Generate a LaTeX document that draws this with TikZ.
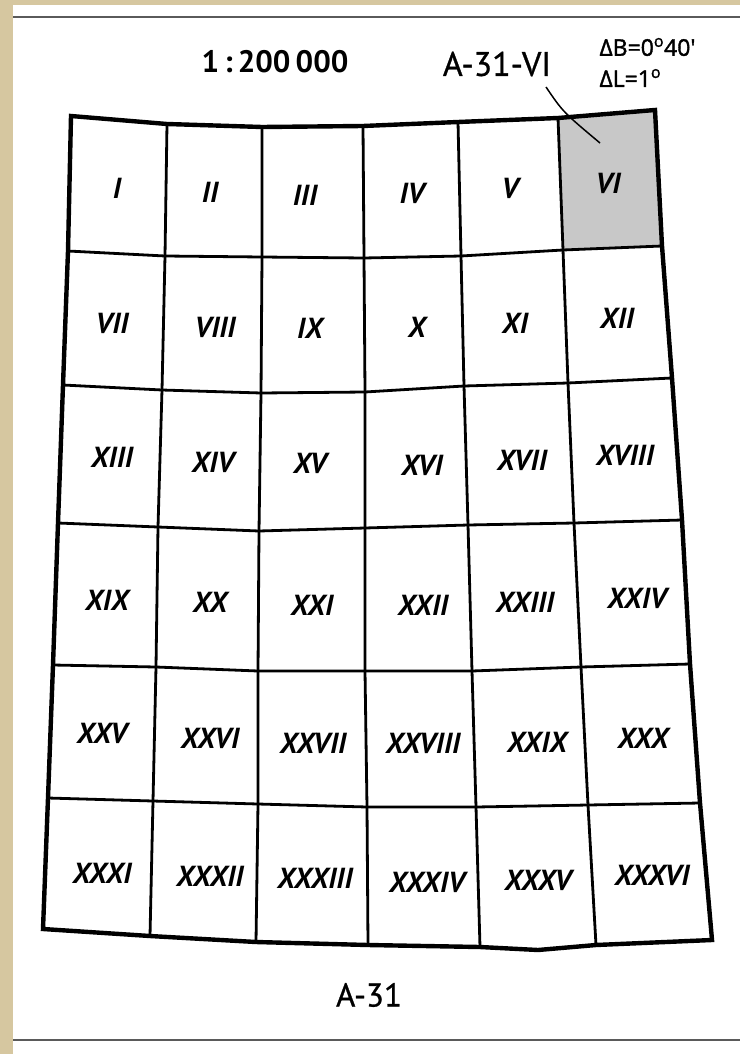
\documentclass[tikz,border=0pt]{standalone}
\usepackage{fontspec}
\setmainfont{PT Sans}
\newfontfamily\semib[FakeBold=0.8]{PT Sans}
\newfontfamily\grk[FakeBold=1.6]{Open Sans}
\definecolor{beige}{RGB}{214,199,160}
\definecolor{cellgray}{RGB}{200,200,200}
\definecolor{rulegray}{RGB}{90,90,90}
\begin{document}
\begin{tikzpicture}[x=1pt,y=-1pt,
  gridline/.style={line width=2.8pt,line join=round},
  outerline/.style={line width=4.4pt,line join=miter},
  cellnum/.style={font=\fontsize{29}{29}\selectfont\bfseries\itshape},
  rulebar/.style={line width=2.6pt,draw=rulegray}]
\useasboundingbox (0,0) rectangle (740,1054);
\fill[white] (0,0) rectangle (740,1054);
\fill[beige] (0,0) rectangle (12.5,1054);
\fill[beige] (0,0) rectangle (740,5.5);
\coordinate (rl0) at (13,17);
\coordinate (rr0) at (740,17);
\coordinate (rl1) at (13,1040);
\coordinate (rr1) at (740,1040);
\draw[rulebar] (rl0) -- (rr0);
\draw[rulebar] (rl1) -- (rr1);
% grid vertices
\foreach \r/\c/\x/\y in {
 0/0/71/116, 0/1/167/124, 0/2/262/127, 0/3/363/126, 0/4/458/122, 0/5/558/118, 0/6/655/110,
 1/0/68/251, 1/1/165/256, 1/2/262/257, 1/3/364/258, 1/4/461/256, 1/5/563/250, 1/6/662/246,
 2/0/63/385, 2/1/162/390, 2/2/261/393, 2/3/365/392, 2/4/464/386, 2/5/568/383, 2/6/672/378,
 3/0/58/523, 3/1/158/527, 3/2/259/531, 3/3/365/528, 3/4/468/525, 3/5/574/523, 3/6/682/520,
 4/0/53/665, 4/1/156/667, 4/2/258/671, 4/3/365/671, 4/4/472/671, 4/5/581/667, 4/6/690/664,
 5/0/48/798, 5/1/153/801, 5/2/258/804, 5/3/367/807, 5/4/476/807, 5/5/588/805, 5/6/700/803,
 6/0/43/929, 6/1/150/936, 6/2/256/942, 6/3/368/945, 6/4/480/947, 6/5/596/945, 6/6/712/940}
 {\coordinate (v\r\c) at (\x,\y);}
\coordinate (bm) at (538,950);
% shaded sheet
\fill[cellgray] (v05) -- (v06) -- (v16) -- (v15) -- cycle;
% inner lines
\foreach \r in {1,...,5}
  \draw[gridline] (v\r0) -- (v\r1) -- (v\r2) -- (v\r3) -- (v\r4) -- (v\r5) -- (v\r6);
\foreach \c in {1,...,5}
  \draw[gridline] (v0\c) -- (v1\c) -- (v2\c) -- (v3\c) -- (v4\c) -- (v5\c) -- (v6\c);
% outer frame
\draw[outerline] (v00) -- (v01) -- (v02) -- (v03) -- (v04) -- (v05) -- (v06)
  -- (v16) -- (v26) -- (v36) -- (v46) -- (v56) -- (v66)
  -- (v65) -- (bm) -- (v64) -- (v63) -- (v62) -- (v61) -- (v60)
  -- (v50) -- (v40) -- (v30) -- (v20) -- (v10) -- cycle;
% cell labels
\foreach \n/\t/\x/\y in {
 c1/I/117/188, c2/II/210/192, c3/III/305/195, c4/IV/412/193, c5/V/510/188, c6/VI/608/183,
 c7/VII/112/323, c8/VIII/215/327, c9/IX/310/328, c10/X/417/327, c11/XI/515/323, c12/XII/617/318,
 c13/XIII/112/457, c14/XIV/213/462, c15/XV/310/463, c16/XVI/422/465, c17/XVII/522/460, c18/XVIII/625/455,
 c19/XIX/107/600, c20/XX/210/602, c21/XXI/312/605, c22/XXII/423/605, c23/XXIII/525/602, c24/XXIV/637/598,
 c25/XXV/102/733, c26/XXVI/210/738, c27/XXVII/313/743, c28/XXVIII/423/743, c29/XXIX/537/742, c30/XXX/643/738,
 c31/XXXI/102/873, c32/XXXII/210/876, c33/XXXIII/315/878, c34/XXXIV/427/882, c35/XXXV/538/880, c36/XXXVI/652/875}
 {\node[cellnum] (\n) at (\x,\y) {\t};}
% headings
\node[font=\fontsize{31}{31}\selectfont\bfseries] (scale) at (275,62) {1\,:\,200\,000};
\node[font=\semib\fontsize{34}{34}\selectfont] (sheet) at (497,64) {A-31-VI};
\node[font=\semib\fontsize{33}{33}\selectfont] (zone) at (369,995) {A-31};
\node[font=\grk\fontsize{23}{23}\selectfont, anchor=west] (db) at (596,47) {ΔB=0\textsuperscript{o}40′};
\node[font=\grk\fontsize{23}{23}\selectfont, anchor=west] (dl) at (596,78) {ΔL=1\textsuperscript{o}};
\coordinate (lstart) at (546,87);
\coordinate (lend) at (600,143);
\draw[line width=1.5pt] (lstart) .. controls (563,112) .. (lend);
\end{tikzpicture}
\end{document}
